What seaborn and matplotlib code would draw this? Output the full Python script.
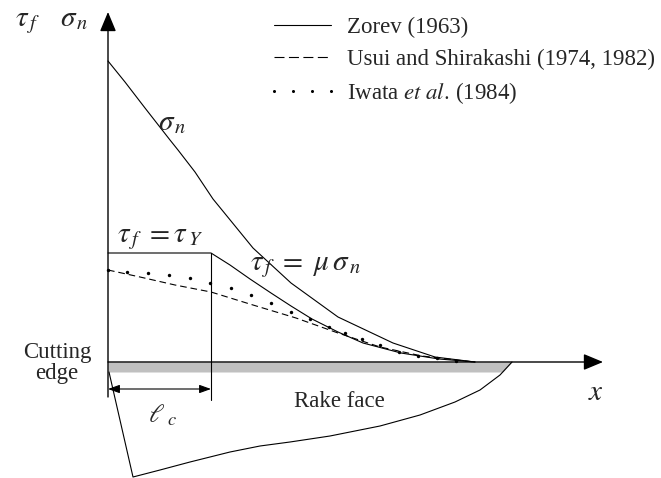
"""
Rake-face stress distribution sketch: normal stress and friction stress
along the tool-chip contact, after Zorev, Usui & Shirakashi and Iwata et al.
"""

import numpy as np
import pandas as pd
import matplotlib
matplotlib.use("Agg")  # Non-interactive backend
import matplotlib.pyplot as plt
from matplotlib.lines import Line2D
import seaborn as sns

# diagram units: x = distance from the cutting edge, y = stress (arbitrary scale)
sigma_x = [0, 17, 37, 62, 70, 87, 105, 114, 145, 183, 230, 285, 327, 367]
sigma_y = [301, 280, 254, 222, 212, 190, 163, 152, 114, 79, 45, 19, 5, 0]

zorev_x = [0, 103, 122, 142, 163, 183, 204, 230, 255, 293, 331, 367]
zorev_y = [109, 109, 97, 83, 69, 56, 43, 30, 19, 9, 3, 0]

usui_x = [0, 32, 67, 103, 145, 188, 230, 272, 314, 357, 367]
usui_y = [92, 85, 77, 70, 57, 44, 29, 15, 6, 1, 0]

iwata_x = [0, 19, 40, 61, 82, 102, 123, 143, 163, 183, 202, 221, 237, 254,
           272, 291, 310, 329, 348]
iwata_y = [92, 90, 89, 87, 84, 79, 74, 67, 59, 50, 43, 35, 29, 23,
           17, 10, 6, 4, 1]

contact_length = 103  # l_c, where sticking ends

# tool outline below the rake face (left flank point, then bottom curve to the tip)
tool_x = [1, 25, 52, 82, 122, 152, 182, 222, 272, 312, 347, 372, 392, 404]
tool_y = [-10, -115, -108, -100, -90, -84, -80, -74, -64, -53, -40, -28, -13, 0]
band_depth = 10

legend_labels = ["Zorev (1963)",
                 "Usui and Shirakashi (1974, 1982)",
                 r"Iwata $\it{et\ al.}\,$(1984)"]

sns.set_theme(style="white")
plt.rcParams["font.family"] = ["Liberation Serif", "DejaVu Serif"]
plt.rcParams["mathtext.fontset"] = "stix"

fig = plt.figure(figsize=(6.61, 4.78), dpi=100)
ax = fig.add_axes([0, 0, 1, 1])
ax.set_xlim(-108, 553)
ax.set_ylim(-116, 362)
ax.axis("off")

lw = 0.8

# gray rake-face band, following the tool tip on the right
band_x = np.linspace(0, tool_x[-1], 300)
band_low = np.maximum(-band_depth, np.interp(band_x, tool_x[1:], tool_y[1:]))
ax.fill_between(band_x, 0, band_low, color="#c0c0c0", lw=0, zorder=1)

# tool outline
ax.plot(tool_x, tool_y, color="black", lw=lw, zorder=2)

# stress curves
df_sigma = pd.DataFrame({"x": sigma_x, "y": sigma_y})
df_zorev = pd.DataFrame({"x": zorev_x, "y": zorev_y})
df_usui = pd.DataFrame({"x": usui_x, "y": usui_y})
df_iwata = pd.DataFrame({"x": iwata_x, "y": iwata_y})

sns.lineplot(data=df_sigma, x="x", y="y", ax=ax, color="black", lw=lw,
             legend=False, zorder=3)
sns.lineplot(data=df_zorev, x="x", y="y", ax=ax, color="black", lw=lw,
             legend=False, zorder=3)
sns.lineplot(data=df_usui, x="x", y="y", ax=ax, color="black", lw=lw,
             linestyle=(0, (6, 3.5)), legend=False, zorder=3)
sns.scatterplot(data=df_iwata, x="x", y="y", ax=ax, color="black", s=6,
                linewidth=0, legend=False, zorder=4)

# contact-length boundary and its extension
ax.plot([contact_length, contact_length], [zorev_y[1], -38], color="black",
        lw=lw, zorder=3)

# axes arrows
ax.annotate("", xy=(0, 350), xytext=(0, -35),
            arrowprops=dict(arrowstyle="-|>,head_length=0.6,head_width=0.25",
                            mutation_scale=20, lw=1.0, color="black",
                            shrinkA=0, shrinkB=0), zorder=5)
ax.annotate("", xy=(495, 0), xytext=(0, 0),
            arrowprops=dict(arrowstyle="-|>,head_length=0.6,head_width=0.25",
                            mutation_scale=20, lw=1.0, color="black",
                            shrinkA=0, shrinkB=0), zorder=5)

# l_c dimension
ax.annotate("", xy=(contact_length, -27), xytext=(0, -27),
            arrowprops=dict(arrowstyle="<|-|>,head_length=0.5,head_width=0.18",
                            mutation_scale=14, lw=lw, color="black",
                            shrinkA=0, shrinkB=0))

# labels
mfs = 21
ax.text(-93, 336, r"$\tau_{\,f}$", fontsize=mfs, ha="left", va="baseline")
ax.text(-48, 336, r"$\sigma_{\,n}$", fontsize=mfs, ha="left", va="baseline")
ax.text(50, 232, r"$\sigma_{\,n}$", fontsize=mfs, ha="left", va="baseline")
ax.text(9, 120, r"$\tau_{\,f}\ =\tau_{\,Y}$", fontsize=mfs, ha="left",
        va="baseline")
ax.text(142, 92, r"$\tau_{\,f}\ =\ \mu\,\sigma_{\,n}$", fontsize=mfs,
        ha="left", va="baseline")
ax.text(40, -60, r"$\ell_{\ c}$", fontsize=mfs - 2, ha="left", va="baseline")
ax.text(480, -38, r"$x$", fontsize=mfs, ha="left", va="baseline")

tfs = 16.5
ax.text(-51, -1, "Cutting\nedge", fontsize=tfs, ha="center", va="center",
        multialignment="center", linespacing=0.95)
ax.text(231, -45, "Rake face", fontsize=tfs, ha="center", va="baseline")

handles = [
    Line2D([], [], color="black", lw=lw),
    Line2D([], [], color="black", lw=lw, linestyle=(0, (9, 4))),
    Line2D([], [], color="black", linestyle="none", marker="o", markersize=2.2,
           markeredgewidth=0),
]
ax.legend(handles, legend_labels, loc="upper left",
          bbox_to_anchor=(267 / 661, 1 - 17 / 478), bbox_transform=fig.transFigure,
          frameon=False, fontsize=tfs, handlelength=3.1, handletextpad=0.4,
          labelspacing=0.45, borderpad=0, borderaxespad=0, numpoints=4)

fig.savefig("out.png", dpi=100)
plt.close(fig)
